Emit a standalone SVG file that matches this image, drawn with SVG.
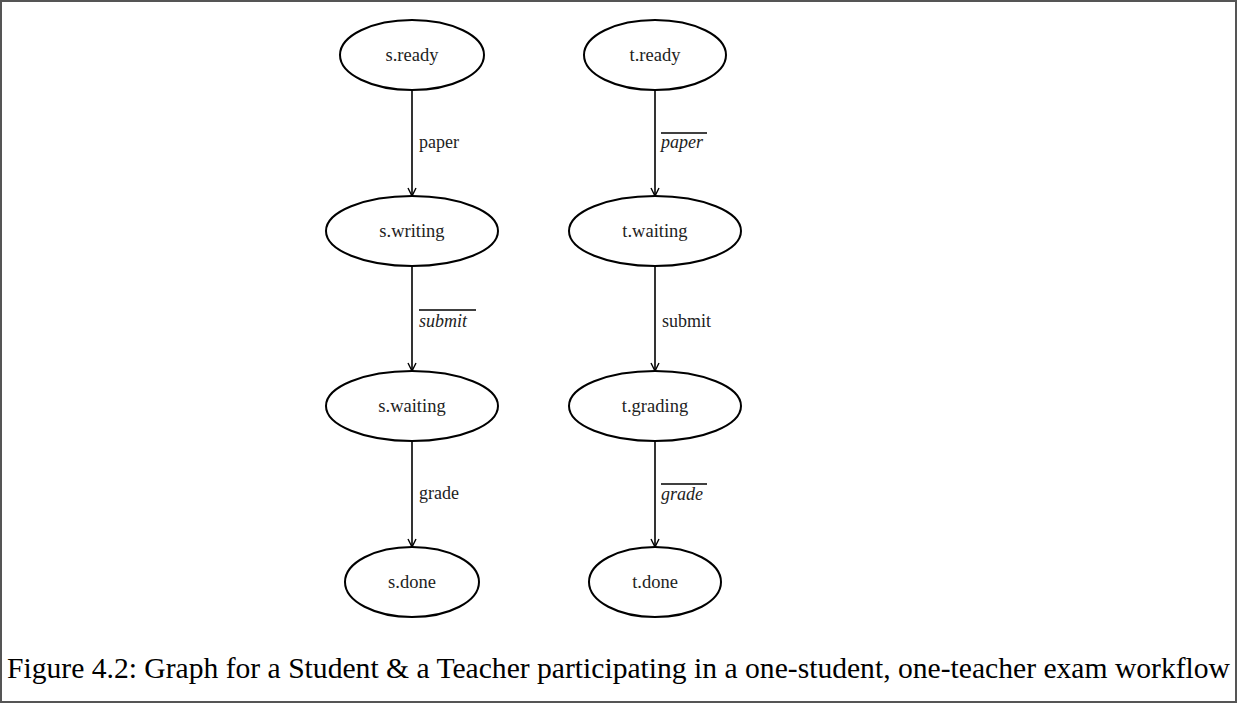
<svg xmlns="http://www.w3.org/2000/svg" width="1238" height="704" viewBox="0 0 1238 704">
<style>
.n ellipse{fill:#fff;stroke:#000;stroke-width:2}
.n text{font-size:18.5px;text-anchor:middle;fill:#222}
.e line{stroke:#000;stroke-width:1.6}
.lbl{font-size:18px;fill:#222}
.it{font-style:italic}
.ov{stroke:#222;stroke-width:1}
.cap{font-size:29.5px;fill:#000}
</style>
<defs>
<marker id="ah" viewBox="0 0 10 10" refX="9" refY="5" markerWidth="10" markerHeight="10" markerUnits="userSpaceOnUse" orient="auto">
<path d="M1,1 L9,5 L1,9" fill="none" stroke="#000" stroke-width="1.4"/>
</marker>
</defs>
<rect x="1" y="1" width="1235" height="701" fill="#fff" stroke="#555" stroke-width="2"/>
<g id="connectors" class="e" font-family="Liberation Serif, serif">
<line x1="412" y1="90" x2="412" y2="196" marker-end="url(#ah)"/>
<line x1="412" y1="266" x2="412" y2="371" marker-end="url(#ah)"/>
<line x1="412" y1="441" x2="412" y2="547" marker-end="url(#ah)"/>
<line x1="655" y1="90" x2="655" y2="196" marker-end="url(#ah)"/>
<line x1="655" y1="266" x2="655" y2="371" marker-end="url(#ah)"/>
<line x1="655" y1="441" x2="655" y2="547" marker-end="url(#ah)"/>
<text class="lbl" x="419" y="148">paper</text>
<text class="lbl it" x="419" y="327">submit</text>
<line class="ov" x1="419" y1="310" x2="476" y2="310"/>
<text class="lbl" x="419" y="499">grade</text>
<text class="lbl it" x="661" y="148">paper</text>
<line class="ov" x1="661" y1="133" x2="707" y2="133"/>
<text class="lbl" x="662" y="327">submit</text>
<text class="lbl it" x="661" y="500">grade</text>
<line class="ov" x1="661" y1="484" x2="707" y2="484"/>
</g>
<g font-family="Liberation Serif, serif">
<g id="s_ready" class="n"><ellipse cx="412" cy="55" rx="72" ry="35"/><text x="412" y="61">s.ready</text></g>
<g id="s_writing" class="n"><ellipse cx="412" cy="231" rx="86" ry="35"/><text x="412" y="237">s.writing</text></g>
<g id="s_waiting" class="n"><ellipse cx="412" cy="406" rx="86" ry="35"/><text x="412" y="412">s.waiting</text></g>
<g id="s_done" class="n"><ellipse cx="412" cy="582" rx="67" ry="35"/><text x="412" y="588">s.done</text></g>
<g id="t_ready" class="n"><ellipse cx="655" cy="55" rx="71" ry="35"/><text x="655" y="61">t.ready</text></g>
<g id="t_waiting" class="n"><ellipse cx="655" cy="231" rx="86" ry="35"/><text x="655" y="237">t.waiting</text></g>
<g id="t_grading" class="n"><ellipse cx="655" cy="406" rx="86" ry="35"/><text x="655" y="412">t.grading</text></g>
<g id="t_done" class="n"><ellipse cx="655" cy="582" rx="66" ry="35"/><text x="655" y="588">t.done</text></g>
<text class="cap" x="7" y="678" textLength="1223" lengthAdjust="spacingAndGlyphs">Figure 4.2: Graph for a Student &amp; a Teacher participating in a one-student, one-teacher exam workflow</text>
</g>
</svg>
